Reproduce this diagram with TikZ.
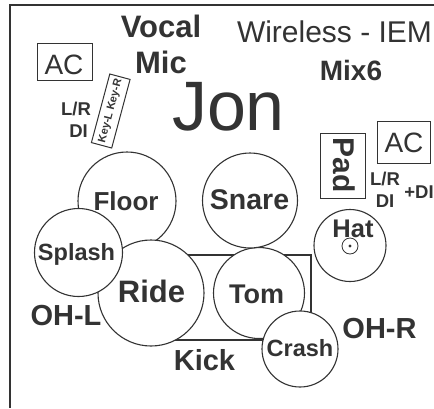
\documentclass[tikz,border=0pt]{standalone}
\usepackage{fontspec}
\setmainfont{Liberation Sans}
\definecolor{ink}{HTML}{333333}
\newcommand{\fs}[1]{\fontsize{#1}{#1}\selectfont}
\begin{document}
\begin{tikzpicture}[x=1pt,y=-1pt,
  drum/.style={circle,draw=ink,fill=white,line width=1.1pt,inner sep=0pt},
  lab/.style={text=ink,anchor=base,inner sep=0pt,font=\bfseries},
  reg/.style={text=ink,anchor=base,inner sep=0pt},
  boxed/.style={draw=ink,line width=1pt,text=ink,inner sep=0pt}]
\useasboundingbox (0,0) rectangle (434,408);
\fill[white] (0,0) rectangle (434,408);
% frame
\coordinate (ftr) at (434,5);
\coordinate (ftl) at (10,5);
\coordinate (fbl) at (10,408);
\draw[ink,line width=1.3pt] (ftr) -- (ftl) -- (fbl);
% top texts
\node[lab,font=\bfseries\fs{31}] (vocal) at (161,37) {Vocal};
\node[lab,font=\bfseries\fs{31}] (mic) at (161,73) {Mic};
\node[reg,font=\fs{70}] (jon) at (228.5,130) {Jon};
\node[reg,font=\fs{30}] (wl) at (334.5,42) {Wireless - IEM};
\node[lab,font=\bfseries\fs{28}] (mix) at (351,80) {Mix6};
% left AC and DI
\node[boxed,minimum width=55,minimum height=37] (acl) at (64.5,61.5) {};
\node[reg,font=\fs{28}] (acltxt) at (64,74) {AC};
\node[lab,font=\bfseries\fs{18.5}] (lrl) at (76,115) {L/R};
\node[lab,font=\bfseries\fs{18.5}] (dil) at (78.5,137) {DI};
\node[boxed,rotate=75,minimum width=71,minimum height=21,font=\bfseries\fs{11}] (key) at (110.75,111) {Key-L Key-R};
% right AC, Pad, DI
\node[boxed,minimum width=53,minimum height=42] (acr) at (403.5,142) {};
\node[reg,font=\fs{28}] (acrtxt) at (404,152) {AC};
\node[boxed,minimum width=45,minimum height=65] (pad) at (342.5,165.5) {};
\node[text=ink,inner sep=0pt,rotate=-90,font=\bfseries\fs{30}] (padtxt) at (344,165) {Pad};
\node[lab,font=\bfseries\fs{18.5}] (lrr) at (385,185) {L/R};
\node[lab,font=\bfseries\fs{18.5}] (dir) at (385,207) {DI};
\node[lab,font=\bfseries\fs{18.5}] (pdi) at (419,198) {+DI};
% kick rectangle
\node[draw=ink,line width=1.1pt,minimum width=141,minimum height=85,inner sep=0pt] (kick) at (240.5,297.5) {};
% drums
\node[drum,minimum size=98] (floor) at (127,201) {};
\node[drum,minimum size=106] (ride) at (151,293) {};
\node[drum,minimum size=88] (splash) at (78.5,252.5) {};
\node[drum,minimum size=91] (tom) at (259,293) {};
\node[drum,minimum size=76] (crash) at (300,349) {};
\node[drum,minimum size=95] (snare) at (250,200.5) {};
\node[drum,minimum size=72] (hat) at (350,245.5) {};
\node[drum,minimum size=16,line width=0.8pt] (hatc) at (350,246) {};
\fill[ink] (hatc.center) circle (1.6pt);
% drum labels
\node[lab,font=\bfseries\fs{26}] at (126,210) {Floor};
\node[lab,font=\bfseries\fs{23.5}] at (76.5,260) {Splash};
\node[lab,font=\bfseries\fs{31}] at (151.5,302) {Ride};
\node[lab,font=\bfseries\fs{27}] at (256.5,303) {Tom};
\node[lab,font=\bfseries\fs{23.5}] at (300,356) {Crash};
\node[lab,font=\bfseries\fs{28.5}] at (249.5,209) {Snare};
\node[lab,font=\bfseries\fs{25.5}] at (353,237) {Hat};
% mic labels
\node[lab,font=\bfseries\fs{29}] (ohl) at (66,325) {OH-L};
\node[lab,font=\bfseries\fs{29}] (ohr) at (379.5,338) {OH-R};
\node[lab,font=\bfseries\fs{29}] (kicktxt) at (204.5,370) {Kick};
\end{tikzpicture}
\end{document}
